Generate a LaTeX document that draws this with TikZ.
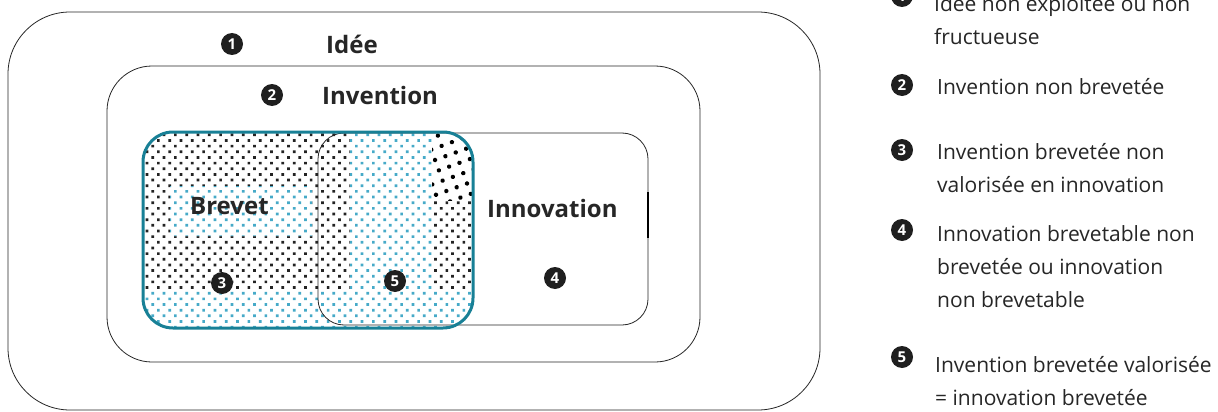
\documentclass[tikz,border=0pt]{standalone}
\usepackage{fontspec}
\setmainfont{Open Sans}
\usetikzlibrary{positioning,patterns.meta}
\definecolor{brevetteal}{RGB}{24,128,150}
\definecolor{dotteal}{RGB}{70,170,200}
\definecolor{dotgray}{RGB}{35,35,35}

\begin{document}
\begin{tikzpicture}[x=1pt, y=-1pt,
  zone/.style={draw=black!85, line width=0.8pt},
  num/.style={circle, fill=black!88, text=white, inner sep=0pt, minimum size=22pt,
    font=\fontsize{15}{15}\selectfont\bfseries},
  title/.style={font=\fontsize{24}{24}\selectfont\bfseries, text=black!85, inner sep=0pt, anchor=west},
  legend/.style={font=\fontsize{21}{33}\selectfont, text=black!85, align=left,
    anchor=north west, inner sep=0pt},
  graydots/.style={pattern={Dots[distance=8pt, radius=1.9pt, angle=45]}, pattern color=dotgray},
  tealdots/.style={pattern={Dots[distance=8pt, radius=1.9pt, angle=45]}, pattern color=dotteal},
  squaredots/.style={pattern={Dots[distance=11pt, radius=2.2pt, angle=20]}, pattern color=black}]
  \useasboundingbox[fill=white] (0,0) rectangle (1218,412);

  % zones
  \draw[zone, rounded corners=62pt] (8,12) rectangle (820,410);
  \draw[zone, rounded corners=45pt] (107,66) rectangle (700,362);

  % patent fill
  \begin{scope}
    \clip[rounded corners=30pt] (143,132) rectangle (473,328);
    \fill[graydots] (143,132) rectangle (473,328);
    \fill[white] (143,290) rectangle (473,328) (350,132) rectangle (432,290)
      (170,186) rectangle (312,236) (432,132) rectangle (473,200);
    \fill[tealdots] (143,290) rectangle (473,328) (350,132) rectangle (432,290)
      (170,186) rectangle (312,236);
    \fill[squaredots] (432,132) rectangle (473,200);
  \end{scope}
  \draw[zone, rounded corners=26pt] (318,133) rectangle (648,325);
  \draw[line width=1.6pt] (648,192) -- (648,238);
  \draw[brevetteal, line width=3pt, rounded corners=30pt] (143,132) rectangle (473,328);

  % labels
  \node[num] (n1) at (232,44) {1};
  \node[title] (idee) at (326,44) {Idée};
  \node[num] (n2) at (272,95) {2};
  \node[title] (invention) at (322,95) {Invention};
  \node[title] (brevet) at (190,206) {Brevet};
  \node[title] (innovation) at (487,208) {Innovation};
  \node[num] (n3) at (222,283) {3};
  \node[num] (n5) at (395,281) {5};
  \node[num] (n4) at (555,278) {4};

  % legend
  \node[num] (l1) at (902,-4) {1};
  \node[legend] (t1) at (934,-5) {Idée non exploitée ou non\\fructueuse};
  \node[num] (l2) at (902,85) {2};
  \node[legend] (t2) at (937,78) {Invention non brevetée};
  \node[num] (l3) at (902,150) {3};
  \node[legend] (t3) at (937,143) {Invention brevetée non\\valorisée en innovation};
  \node[num] (l4) at (902,230) {4};
  \node[legend] (t4) at (937,225) {Innovation brevetable non\\brevetée ou innovation\\non brevetable};
  \node[num] (l5) at (902,357) {5};
  \node[legend] (t5) at (935,356) {Invention brevetée valorisée\\= innovation brevetée};
\end{tikzpicture}
\end{document}
